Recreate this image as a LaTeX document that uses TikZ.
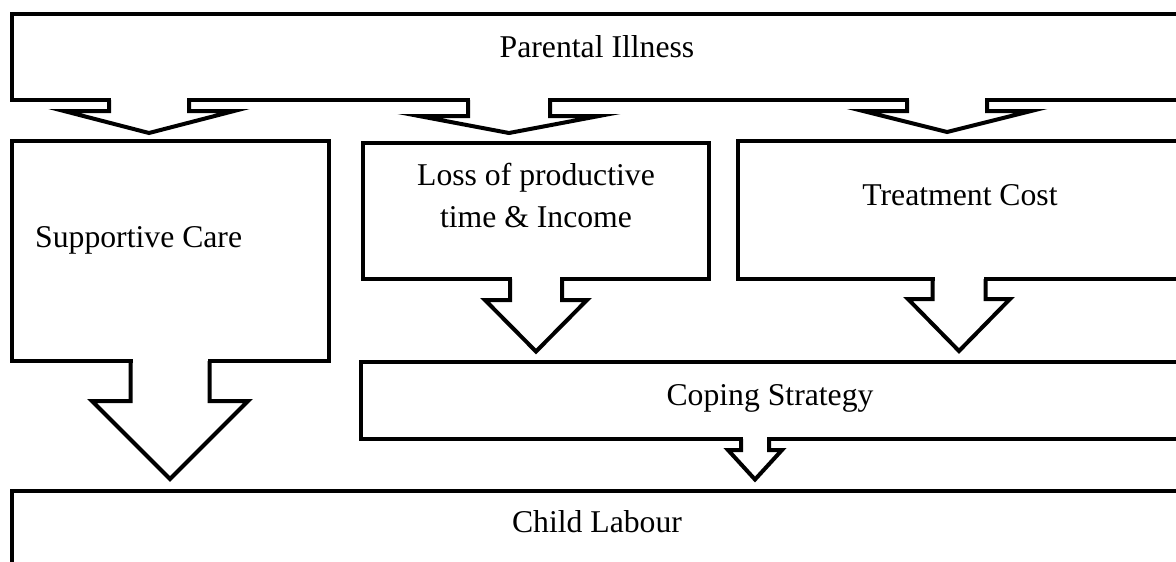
\documentclass[tikz,border=0pt]{standalone}
\usepackage{fontspec}
\setmainfont{Liberation Serif}
\usetikzlibrary{calc, positioning}
\def\lw{4pt}
\tikzstyle{box}=[draw, rectangle, line width=\lw, inner sep=0pt, outer sep=0pt]
\tikzstyle{callout}=[draw, line width=\lw, miter limit=25]
\tikzstyle{annot}=[inner sep=0pt, font=\fontsize{31.7}{42}\selectfont, align=center]

% block arrow: source, target, x, shaft half, shaft length, head half, gap
\newcommand{\blockarrow}[7]{%
  \coordinate (root) at (#3,0 |- #1.south);
  \coordinate (tip) at (#3,0 |- #2.north);
  \fill[white] ($(root)+(-#4+2,-3)$) rectangle ($(root)+(#4-2,3)$);
  \draw[callout] ($(root)+(-#4,0)$) -- ++(0,#5) -- ($(root)+(-#6,#5)$)
    -- ($(tip)+(0,-#7)$) -- ($(root)+(#6,#5)$) -- ($(root)+(#4,#5)$) -- ($(root)+(#4,0)$);
}

\begin{document}
\begin{tikzpicture}[x=1pt, y=-1pt]
			\useasboundingbox (0,0) rectangle (1176,562);
			\clip (0,0) rectangle (1176,562);

			% Draw the boxes
			\foreach \name / \cx / \cy / \w / \h in {illness/597/57/1170/86, care/170.25/251/316.5/220,
				loss/536/211/346/136, cost/960/210/444/138, coping/770/400.5/818/77, labour/597/565.5/1170/149}
			\node[box, minimum width=\w pt, minimum height=\h pt] (\name) at (\cx,\cy) {};

			% Draw the block arrows between the boxes
			\foreach \src / \dst / \x / \s / \l / \h / \g in {illness/care/149/40/11/85/8, illness/loss/509/41/16/90/10,
				illness/cost/947/40/11/84/9, care/labour/170/39.5/40/78/12, loss/coping/536/26/21/51/10.5,
				cost/coping/959/26.5/20/51/11, coping/labour/755/14/11/27/11.5}
			\blockarrow{\src}{\dst}{\x}{\s}{\l}{\h}{\g};

			% Annotate the boxes
			\node[annot, anchor=base] (illness-text) at (597,57) {Parental Illness};
			\node[annot, anchor=base west] (care-text) at (35,247) {Supportive Care};
			\node[annot, anchor=base] (loss-text) at (536,227) {Loss of productive\\time \& Income};
			\node[annot, anchor=base] (cost-text) at (960,205) {Treatment Cost};
			\node[annot, anchor=base] (coping-text) at (770,405) {Coping Strategy};
			\node[annot, anchor=base] (labour-text) at (597,532) {Child Labour};
		\end{tikzpicture}
\end{document}
